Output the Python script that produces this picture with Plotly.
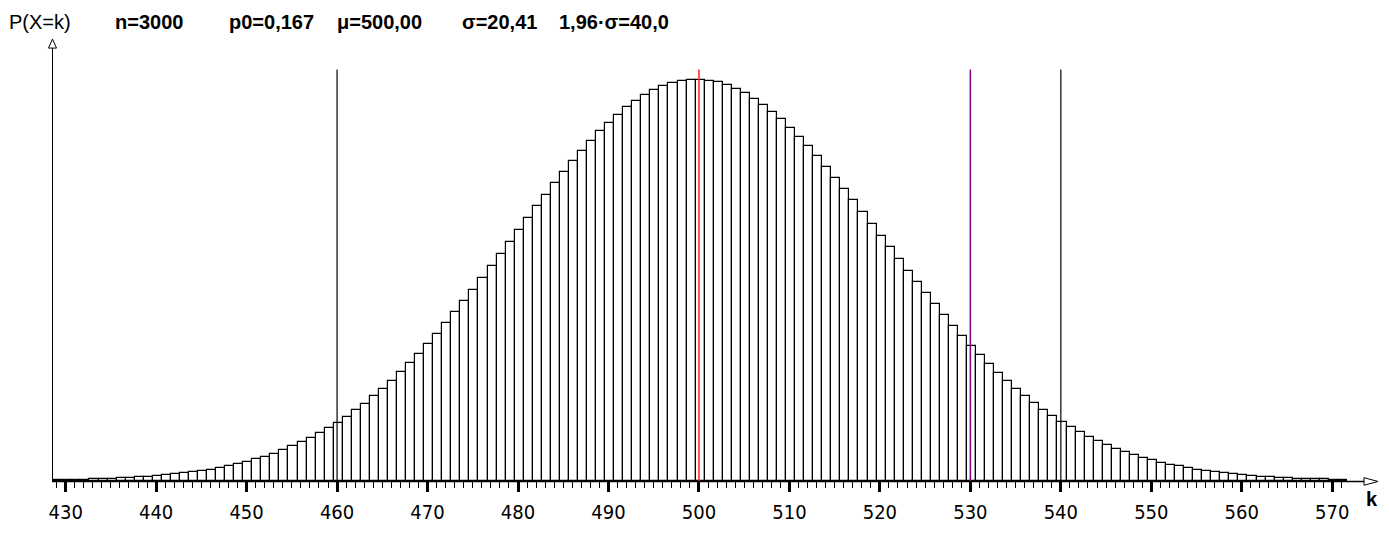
import plotly.graph_objects as go

# ---------------- data ----------------
k_values = list(range(429, 572))
probabilities = [
    0.0000382, 0.0000456, 0.0000545, 0.0000648, 0.0000768, 0.0000912,
    0.000108, 0.000126, 0.000149, 0.000174, 0.000203, 0.000237,
    0.000275, 0.000318, 0.000367, 0.000423, 0.000486, 0.000557,
    0.000636, 0.000725, 0.000824, 0.000934, 0.001056, 0.001190,
    0.001339, 0.001503, 0.001683, 0.001877, 0.002089, 0.002320,
    0.002570, 0.002840, 0.003128, 0.003438, 0.003769, 0.004121,
    0.004496, 0.004891, 0.005307, 0.005744, 0.006203, 0.006683,
    0.007178, 0.007690, 0.008221, 0.008766, 0.009325, 0.009892,
    0.010467, 0.011050, 0.011637, 0.012227, 0.012809, 0.013389,
    0.013960, 0.014520, 0.015068, 0.015594, 0.016099, 0.016581,
    0.017037, 0.017464, 0.017854, 0.018209, 0.018527, 0.018806,
    0.019042, 0.019234, 0.019381, 0.019482, 0.019538, 0.019546,
    0.019508, 0.019422, 0.019291, 0.019114, 0.018894, 0.018634,
    0.018333, 0.017993, 0.017618, 0.017208, 0.016771, 0.016307,
    0.015817, 0.015306, 0.014774, 0.014232, 0.013676, 0.013111,
    0.012539, 0.011963, 0.011391, 0.010820, 0.010253, 0.009692,
    0.009141, 0.008604, 0.008079, 0.007568, 0.007072, 0.006593,
    0.006135, 0.005696, 0.005275, 0.004873, 0.004492, 0.004133,
    0.003793, 0.003474, 0.003172, 0.002892, 0.002630, 0.002388,
    0.002161, 0.001953, 0.001759, 0.001583, 0.001421, 0.001272,
    0.001136, 0.001012, 0.000900, 0.000799, 0.000708, 0.000625,
    0.000550, 0.000485, 0.000425, 0.000372, 0.000325, 0.000283,
    0.000247, 0.000214, 0.000185, 0.000160, 0.000138, 0.000119,
    0.000102, 0.0000872, 0.0000745, 0.0000634, 0.0000540,
]

header_texts = ["P(X=k)", "n=3000", "p0=0,167", "\u03bc=500,00", "\u03c3=20,41", "1,96\u00b7\u03c3=40,0"]
header_bold = [False, True, True, True, True, True]

mu_line = 500
interval_lines = [460, 540]
marker_line = 530

tick_values = list(range(430, 571, 10))

# ---------------- geometry helpers (pixel coordinates) ----------------
W_FIG, H_FIG = 1389, 536
L, R, T, B = 52, 1347, 40, 504   # plot area in pixels
PW, PH = R - L, B - T


def px_x(px):
    return (px - L) / PW


def px_y(py):
    return (B - py) / PH


fig = go.Figure()

fig.add_trace(go.Bar(
    x=k_values, y=probabilities,
    width=1.0, offset=-0.37,
    marker=dict(color="white", line=dict(color="black", width=1.2)),
    showlegend=False, hoverinfo="x+y",
))

shapes = []
# y axis line + arrow
shapes.append(dict(type="line", xref="paper", yref="paper",
                   x0=px_x(52.5), x1=px_x(52.5), y0=px_y(504), y1=px_y(48.5),
                   line=dict(color="black", width=1)))
shapes.append(dict(type="path", xref="paper", yref="paper",
                   path=f"M {px_x(52.5)} {px_y(39)} L {px_x(48.5)} {px_y(48.5)} "
                        f"L {px_x(56.5)} {px_y(48.5)} Z",
                   line=dict(color="black", width=1), fillcolor="white"))
# x axis line + arrow
shapes.append(dict(type="line", xref="paper", yref="paper",
                   x0=px_x(52), x1=px_x(1364), y0=px_y(504.5), y1=px_y(504.5),
                   line=dict(color="black", width=1.5)))
shapes.append(dict(type="path", xref="paper", yref="paper",
                   path=f"M {px_x(1378)} {px_y(504.5)} L {px_x(1364)} {px_y(500.5)} "
                        f"L {px_x(1364)} {px_y(508.5)} Z",
                   line=dict(color="black", width=1), fillcolor="white"))
# vertical reference lines
for xv in interval_lines:
    shapes.append(dict(type="line", xref="x", yref="paper", x0=xv, x1=xv,
                       y0=0, y1=px_y(71), line=dict(color="black", width=1.2)))
shapes.append(dict(type="line", xref="x", yref="paper", x0=marker_line, x1=marker_line,
                   y0=0, y1=px_y(71), line=dict(color="#800080", width=1.5)))
shapes.append(dict(type="line", xref="x", yref="paper", x0=mu_line, x1=mu_line,
                   y0=0, y1=px_y(71), line=dict(color="#ff2020", width=1.5)))

annotations = []
header_x = [7, 113, 227, 335, 460, 557]
for txt, bold, hx in zip(header_texts, header_bold, header_x):
    annotations.append(dict(
        text=f"<b>{txt}</b>" if bold else txt,
        xref="paper", yref="paper", x=px_x(hx), y=px_y(21),
        xanchor="left", yanchor="middle", showarrow=False,
        font=dict(family="Liberation Sans, Arial, sans-serif", size=20, color="black"),
    ))
annotations.append(dict(
    text="<b>k</b>", xref="paper", yref="paper", x=px_x(1372), y=px_y(523),
    xanchor="center", yanchor="middle", showarrow=False,
    font=dict(family="Liberation Sans, Arial, sans-serif", size=20, color="black"),
))

fig.update_layout(
    width=W_FIG, height=H_FIG,
    margin=dict(l=L, r=W_FIG - R, t=T, b=H_FIG - B, pad=0),
    paper_bgcolor="white", plot_bgcolor="white",
    bargap=0,
    shapes=shapes, annotations=annotations,
    xaxis=dict(
        range=[428.49, 571.63], showgrid=False, zeroline=False, showline=False,
        tickmode="array", tickvals=tick_values, ticktext=[str(v) for v in tick_values],
        ticks="outside", ticklen=10, tickwidth=3, tickcolor="black",
        ticklabelstandoff=3,
        minor=dict(ticks="outside", ticklen=6, tickwidth=1, tickcolor="black",
                   dtick=1, tick0=0, showgrid=False),
        tickfont=dict(family="Liberation Sans Narrow, Arial Narrow, DejaVu Sans Condensed, sans-serif",
                      size=20, color="black"),
        fixedrange=True,
    ),
    yaxis=dict(
        range=[0, 0.021491], showgrid=False, zeroline=False, showline=False,
        showticklabels=False, ticks="", fixedrange=True,
    ),
)

fig.write_html(
    "out.html",
    config={"displayModeBar": False},
    post_script="document.body.style.margin='0';document.body.style.overflow='hidden';",
)
